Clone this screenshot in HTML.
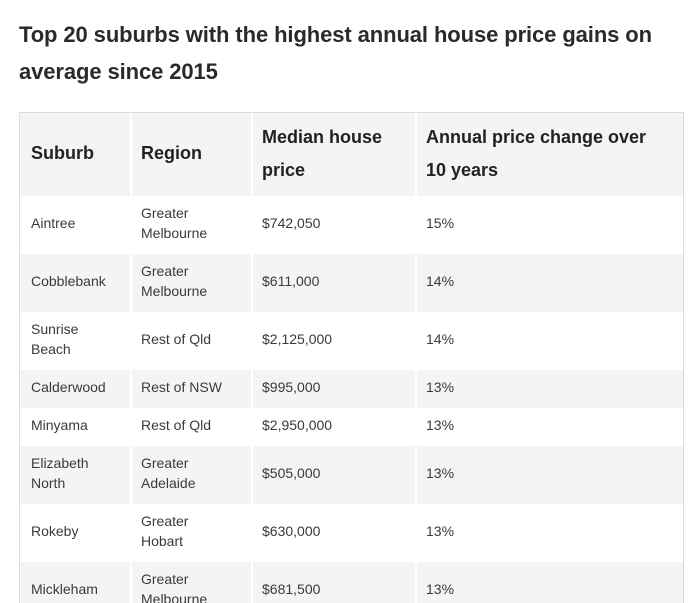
<!DOCTYPE html>
<html><head><meta charset="utf-8"><style>
body{margin:0;width:695px;height:595px;overflow:hidden;background:#fff;font-family:"Liberation Sans",Arial,sans-serif;position:relative}
.t{position:absolute;left:19px;top:16px;font-size:22px;font-weight:bold;color:#2a2a2a;line-height:37px;width:670px;letter-spacing:-0.1px}
.tb{position:absolute;left:19px;top:112px;width:663px;height:490px;border:1px solid #ddd;border-bottom:none;overflow:hidden}
.r{position:absolute;left:0;width:663px}
.g{background:#f4f4f4}
.c{position:absolute;top:0;height:100%;display:flex;align-items:center;box-sizing:border-box;padding-left:11px;padding-bottom:5px;font-size:14px;color:#3a3a3a;line-height:20px}
.g .c{box-shadow:inset 2px 0 0 #fff}
.g .c:first-child{box-shadow:none}
.h .c{font-size:18px;font-weight:bold;color:#222;line-height:33px;padding-bottom:2px}
</style></head><body>
<div class="t">Top 20 suburbs with the highest annual house price gains on average since 2015</div>
<div class="tb">
<div class="r g h" style="top:0;height:83px"><div class="c" style="left:0;width:110px">Suburb</div><div class="c" style="left:110px;width:121px">Region</div><div class="c" style="left:231px;width:164px">Median house<br>price</div><div class="c" style="left:395px;width:268px">Annual price change over<br>10 years</div></div>
<div class="r" style="top:83px;height:58px"><div class="c" style="left:0;width:110px">Aintree</div><div class="c" style="left:110px;width:121px">Greater<br>Melbourne</div><div class="c" style="left:231px;width:164px">$742,050</div><div class="c" style="left:395px;width:268px">15%</div></div>
<div class="r g" style="top:141px;height:58px"><div class="c" style="left:0;width:110px">Cobblebank</div><div class="c" style="left:110px;width:121px">Greater<br>Melbourne</div><div class="c" style="left:231px;width:164px">$611,000</div><div class="c" style="left:395px;width:268px">14%</div></div>
<div class="r" style="top:199px;height:58px"><div class="c" style="left:0;width:110px">Sunrise<br>Beach</div><div class="c" style="left:110px;width:121px">Rest of Qld</div><div class="c" style="left:231px;width:164px">$2,125,000</div><div class="c" style="left:395px;width:268px">14%</div></div>
<div class="r g" style="top:257px;height:38px"><div class="c" style="left:0;width:110px">Calderwood</div><div class="c" style="left:110px;width:121px">Rest of NSW</div><div class="c" style="left:231px;width:164px">$995,000</div><div class="c" style="left:395px;width:268px">13%</div></div>
<div class="r" style="top:295px;height:38px"><div class="c" style="left:0;width:110px">Minyama</div><div class="c" style="left:110px;width:121px">Rest of Qld</div><div class="c" style="left:231px;width:164px">$2,950,000</div><div class="c" style="left:395px;width:268px">13%</div></div>
<div class="r g" style="top:333px;height:58px"><div class="c" style="left:0;width:110px">Elizabeth<br>North</div><div class="c" style="left:110px;width:121px">Greater<br>Adelaide</div><div class="c" style="left:231px;width:164px">$505,000</div><div class="c" style="left:395px;width:268px">13%</div></div>
<div class="r" style="top:391px;height:58px"><div class="c" style="left:0;width:110px">Rokeby</div><div class="c" style="left:110px;width:121px">Greater<br>Hobart</div><div class="c" style="left:231px;width:164px">$630,000</div><div class="c" style="left:395px;width:268px">13%</div></div>
<div class="r g" style="top:449px;height:58px"><div class="c" style="left:0;width:110px">Mickleham</div><div class="c" style="left:110px;width:121px">Greater<br>Melbourne</div><div class="c" style="left:231px;width:164px">$681,500</div><div class="c" style="left:395px;width:268px">13%</div></div>
</div>
</body></html>
